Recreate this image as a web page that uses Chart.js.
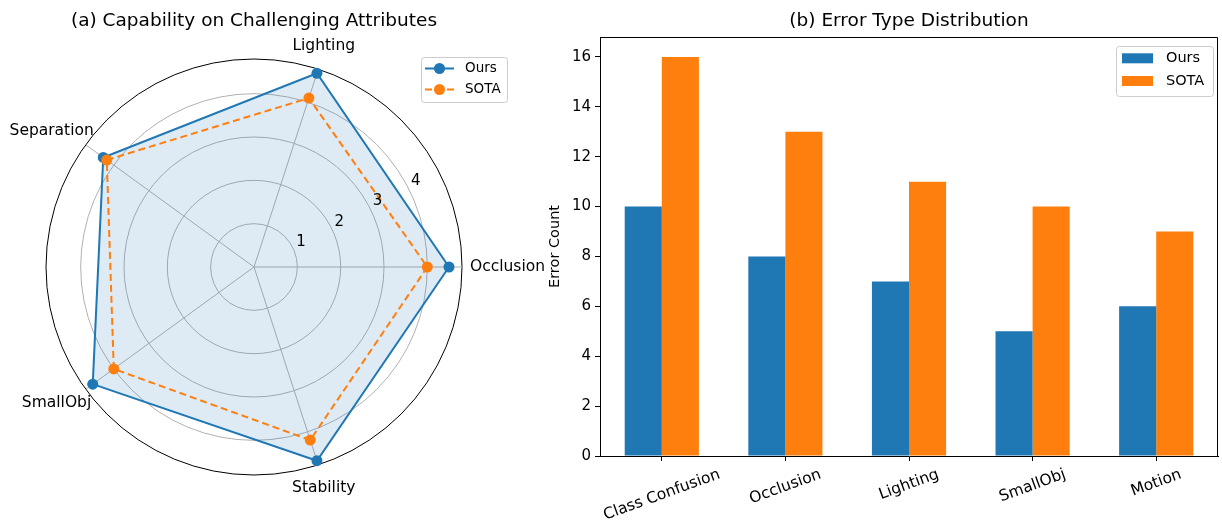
<!DOCTYPE html>
<html>
<head>
<meta charset="utf-8">
<script src="https://cdn.jsdelivr.net/npm/chart.js@4.4.0/dist/chart.umd.min.js"></script>
<style>
  html, body { margin: 0; padding: 0; background: #fff; }
  #wrap { position: relative; width: 1222px; height: 522px; overflow: hidden; }
  #radarBox { position: absolute; left: 0; top: 0; width: 560px; height: 522px; }
  #barBox { position: absolute; left: 520px; top: 0; width: 702px; height: 522px; }
</style>
</head>
<body>
<div id="wrap">
  <div id="radarBox"><canvas id="chartRadar"></canvas></div>
  <div id="barBox"><canvas id="chartBar"></canvas></div>
</div>
<script>
// (a) capability radar, attributes in counter-clockwise order from the right
var attributes = ["Occlusion", "Lighting", "Separation", "SmallObj", "Stability"];
var oursScores = [4.5, 4.7, 4.3, 4.6, 4.7];
var sotaScores = [4.0, 4.1, 4.2, 4.0, 4.2];
var radarTicks = [1, 2, 3, 4];
var radarMax = 4.8;

// (b) error type bars
var errorTypes = ["Class Confusion", "Occlusion", "Lighting", "SmallObj", "Motion"];
var oursErrors = [10, 8, 7, 5, 6];
var sotaErrors = [16, 13, 11, 10, 9];
var errorTicks = [0, 2, 4, 6, 8, 10, 12, 14, 16];
var errorMax = 16.8;

var FONT = "'DejaVu Sans', sans-serif";
var BLUE = '#1f77b4';
var ORANGE = '#ff7f0e';

(function () {
  document.addEventListener("DOMContentLoaded", init)
  function init() {

    // chart.js goes clockwise, matplotlib went counter-clockwise
    var cwOrder = [0, 4, 3, 2, 1];
    function cw(arr) { return cwOrder.map(function (i) { return arr[i]; }); }

    /**
     * Legend box drawn inside the plot, matplotlib style
     */
    function boxLegend(id, box, drawHandle) {
      return {
        id: id,
        afterDraw: function (chart) {
          var c = chart.ctx;
          c.save();
          c.beginPath();
          c.roundRect(box.x + 0.5, box.y + 0.5, box.w, box.h, 3);
          c.fillStyle = 'rgba(255,255,255,0.8)';
          c.fill();
          c.strokeStyle = '#cccccc';
          c.lineWidth = 1;
          c.stroke();
          c.font = box.size + 'px ' + FONT;
          c.textBaseline = 'middle';
          chart.data.datasets.forEach(function (ds, i) {
            var y = box.y + box.rowTop + i * box.rowGap;
            drawHandle(c, ds, box.x + box.handleX, y, box.handleW);
            c.fillStyle = '#000';
            c.fillText(ds.label, box.x + box.textX, y);
          });
          c.restore();
        }
      };
    }

    /**
     * Radar: ring numbers and attribute names
     */
    var radarText = {
      id: 'radarText',
      afterDraw: function (chart) {
        var s = chart.scales.r, c = chart.ctx;
        c.save();
        c.font = '15px ' + FONT;
        c.fillStyle = '#000';
        c.textAlign = 'center';
        c.textBaseline = 'middle';
        var a = 28 * Math.PI / 180;
        radarTicks.forEach(function (v) {
          var d = s.getDistanceFromCenterForValue(v) + 10;
          c.fillText(String(v), s.xCenter + d * Math.cos(a), s.yCenter - d * Math.sin(a));
        });
        c.font = '15.5px ' + FONT;
        chart.data.labels.forEach(function (lbl, i) {
          var ang = s.getIndexAngle(i) - Math.PI / 2;
          var cs = Math.cos(ang), sn = Math.sin(ang);
          var w = c.measureText(lbl).width;
          var dx = s.drawingArea + 8 + Math.abs(cs) * w / 2;
          var dy = s.drawingArea + 24;
          c.fillText(lbl, s.xCenter + dx * cs, s.yCenter + dy * sn);
        });
        c.restore();
      }
    };

    var chartRadarContext = document.getElementById('chartRadar').getContext('2d');
    var chartRadar = new Chart(chartRadarContext, {
      type: 'radar',
      data: {
        labels: cw(attributes),
        datasets: [{
          label: 'Ours',
          data: cw(oursScores),
          borderColor: BLUE,
          backgroundColor: 'rgba(31,119,180,0.15)',
          fill: true,
          borderWidth: 2,
          pointRadius: 5.5,
          pointBackgroundColor: BLUE,
          pointBorderWidth: 0,
          order: 2
        }, {
          label: 'SOTA',
          data: cw(sotaScores),
          borderColor: ORANGE,
          backgroundColor: ORANGE,
          fill: false,
          borderWidth: 2,
          borderDash: [7, 4],
          pointRadius: 5.5,
          pointBackgroundColor: ORANGE,
          pointBorderWidth: 0,
          order: 1
        }]
      },
      options: {
        responsive: true,
        maintainAspectRatio: false,
        animation: false,
        layout: { padding: { left: 46, right: 98, top: 0, bottom: 47 } },
        plugins: {
          legend: { display: false },
          tooltip: { enabled: false },
          title: {
            display: true,
            text: '(a) Capability on Challenging Attributes',
            color: '#000',
            font: { family: FONT, size: 18.5, weight: 'normal' },
            padding: { top: 10, bottom: 26.8 },
            fullSize: false
          }
        },
        scales: {
          r: {
            min: 0,
            max: radarMax,
            startAngle: 90,
            afterBuildTicks: function (s) {
              s.ticks = [0].concat(radarTicks, [radarMax]).map(function (v) { return { value: v }; });
            },
            ticks: { display: false },
            pointLabels: { display: false },
            grid: {
              circular: true,
              color: function (ctx) { return ctx.tick && ctx.tick.value === radarMax ? '#000' : '#b0b0b0'; },
              lineWidth: 1
            },
            angleLines: { color: '#b0b0b0', lineWidth: 1 }
          }
        }
      },
      plugins: [radarText, boxLegend('radarLegend',
        { x: 421, y: 57, w: 86, h: 45, rowTop: 11.5, rowGap: 21, handleX: 4, handleW: 29, textX: 44, size: 13.5 },
        function (c, ds, x, y, w) {
          c.strokeStyle = ds.borderColor;
          c.lineWidth = 2;
          c.setLineDash(ds.borderDash || []);
          c.beginPath(); c.moveTo(x, y); c.lineTo(x + w, y); c.stroke();
          c.setLineDash([]);
          c.fillStyle = ds.borderColor;
          c.beginPath(); c.arc(x + w / 2, y, 5.5, 0, Math.PI * 2); c.fill();
        })]
    });

    /**
     * Bars: rotated category labels and the top/right spines
     */
    var barExtras = {
      id: 'barExtras',
      afterDraw: function (chart) {
        var c = chart.ctx, a = chart.chartArea, sx = chart.scales.x;
        c.save();
        c.strokeStyle = '#000';
        c.lineWidth = 1;
        c.beginPath();
        c.moveTo(Math.round(a.left) + 0.5, Math.round(a.top) + 0.5);
        c.lineTo(Math.round(a.right) - 0.5, Math.round(a.top) + 0.5);
        c.lineTo(Math.round(a.right) - 0.5, Math.round(a.bottom));
        c.stroke();
        c.font = '15.5px ' + FONT;
        c.fillStyle = '#000';
        c.textAlign = 'center';
        c.textBaseline = 'middle';
        var rot = 20 * Math.PI / 180;
        chart.data.labels.forEach(function (lbl, i) {
          var x = sx.getPixelForTick(i);
          var w = c.measureText(lbl).width, h = 17;
          var bh = w * Math.sin(rot) + h * Math.cos(rot);
          var y = a.bottom + 10 + bh / 2;
          c.save();
          c.translate(x, y);
          c.rotate(-rot);
          c.fillText(lbl, 0, 0);
          c.restore();
        });
        c.restore();
      }
    };

    var chartBarContext = document.getElementById('chartBar').getContext('2d');
    var chartBar = new Chart(chartBarContext, {
      type: 'bar',
      data: {
        labels: errorTypes,
        datasets: [{
          label: 'Ours',
          data: oursErrors,
          backgroundColor: BLUE,
          categoryPercentage: 0.6,
          barPercentage: 1.0
        }, {
          label: 'SOTA',
          data: sotaErrors,
          backgroundColor: ORANGE,
          categoryPercentage: 0.6,
          barPercentage: 1.0
        }]
      },
      options: {
        responsive: true,
        maintainAspectRatio: false,
        animation: false,
        layout: { padding: { left: 0, right: 4, top: 0, bottom: 0 } },
        plugins: {
          legend: { display: false },
          tooltip: { enabled: false },
          title: {
            display: true,
            text: '(b) Error Type Distribution',
            color: '#000',
            font: { family: FONT, size: 18.5, weight: 'normal' },
            padding: { top: 10, bottom: 4.8 },
            fullSize: false
          }
        },
        scales: {
          x: {
            offset: true,
            ticks: { display: false },
            grid: { offset: false, drawOnChartArea: false, drawTicks: true, tickLength: 5, color: '#000', lineWidth: 1 },
            border: { display: true, color: '#000', width: 1 },
            afterFit: function (s) { s.height = 66; }
          },
          y: {
            min: 0,
            max: errorMax,
            afterBuildTicks: function (s) {
              s.ticks = errorTicks.map(function (v) { return { value: v }; });
            },
            ticks: { color: '#000', padding: 4, font: { family: FONT, size: 15 } },
            grid: { drawOnChartArea: false, drawTicks: true, tickLength: 5, color: '#000', lineWidth: 1 },
            border: { display: true, color: '#000', width: 1 },
            title: {
              display: true,
              text: 'Error Count',
              color: '#000',
              font: { family: FONT, size: 14.5 },
              padding: { top: 26.5, bottom: 0 }
            },
            afterFit: function (s) { s.width = 80; }
          }
        }
      },
      plugins: [barExtras, boxLegend('barLegend',
        { x: 596, y: 46, w: 97, h: 50, rowTop: 12.3, rowGap: 22.7, handleX: 6, handleW: 31, textX: 50, size: 14.5 },
        function (c, ds, x, y, w) {
          c.fillStyle = ds.backgroundColor;
          c.fillRect(x, y - 5, w, 10);
        })]
    });
  }
})();
</script>
</body>
</html>
